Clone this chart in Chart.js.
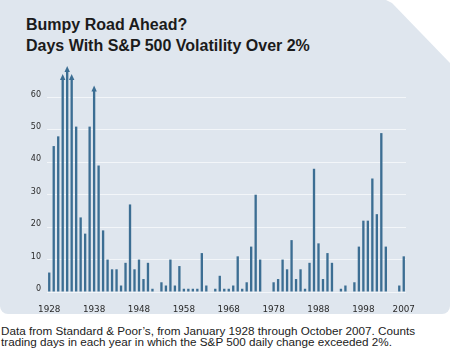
<!DOCTYPE html>
<html>
<head>
<meta charset="utf-8">
<script src="https://cdn.jsdelivr.net/npm/chart.js@4"></script>
<style>
    html, body { margin: 0; padding: 0; background: #fff; }
    body { width: 450px; height: 362px; position: relative; overflow: hidden; }
    .panel {
        position: absolute; left: 0; top: 0;
        width: 450px; height: 314px;
        background: #dfe6ee;
        border-radius: 0 0 8px 8px;
        clip-path: polygon(0 0, 386px 0, 392px 3px, 450px 63px, 450px 100%, 0 100%);
    }
    .title {
        position: absolute; left: 26px; top: 15px;
        font: bold 16px "Liberation Sans", Arial, sans-serif;
        line-height: 20.7px; color: #1b1b1b;
    }
    .note {
        position: absolute; left: 1px; top: 326px;
        font: 11.7px "Liberation Sans", Arial, sans-serif;
        line-height: 10.6px; color: #222;
    }
    canvas { position: absolute; left: 0; top: 0; }
</style>
</head>
<body>
<div class="panel"></div>
<div class="title">Bumpy Road Ahead?<br>Days With S&amp;P 500 Volatility Over 2%</div>
<canvas id="chart" width="450" height="314"></canvas>
<div class="note">Data from Standard &amp; Poor’s, from January 1928 through October 2007. Counts<br>trading days in each year in which the S&amp;P 500 daily change exceeded 2%.</div>

<script>
const firstYear = 1928;
const lastYear = 2007;
const years = [];
for (let y = firstYear; y <= lastYear; y++) years.push(String(y));

// days per year with a move over 2%, 1928-2007
const days = [
    6, 45, 48, 65.5, 68, 65.5, 51, 23, 18, 51,      // 1928-1937
    62, 39, 19, 10, 7, 7, 2, 9, 27, 7,              // 1938-1947
    10, 4, 9, 1, 0, 3, 2, 10, 2, 8,                 // 1948-1957
    1, 1, 1, 1, 12, 2, 0, 1, 5, 1,                  // 1958-1967
    1, 2, 11, 1, 3, 14, 30, 10, 0, 0,               // 1968-1977
    3, 4, 10, 7, 16, 4, 7, 1, 9, 38,                // 1978-1987
    15, 4, 12, 9, 0, 1, 2, 0, 3, 14,                // 1988-1997
    22, 22, 35, 24, 49, 14, 0, 0, 2, 11             // 1998-2007
];

// bars running off the top of the chart get an arrowhead
const offChartYears = ['1931', '1932', '1933', '1938'];
const tickYears = ['1928', '1938', '1948', '1958', '1968', '1978', '1988', '1998', '2007'];
const yTicks = [0, 10, 20, 30, 40, 50, 60];

const barColor = '#3c6e93';

const arrowPlugin = {
    id: 'arrows',
    afterDatasetsDraw(chart) {
        const ctx = chart.ctx;
        const meta = chart.getDatasetMeta(0);
        ctx.save();
        ctx.fillStyle = barColor;
        offChartYears.forEach(yr => {
            const bar = meta.data[years.indexOf(yr)];
            if (!bar) return;
            ctx.beginPath();
            ctx.moveTo(bar.x, bar.y - 5.5);
            ctx.lineTo(bar.x - 2.7, bar.y + 0.5);
            ctx.lineTo(bar.x + 2.7, bar.y + 0.5);
            ctx.closePath();
            ctx.fill();
        });
        ctx.restore();
    }
};

const ctx = document.getElementById('chart').getContext('2d');
new Chart(ctx, {
    type: 'bar',
    data: {
        labels: years,
        datasets: [{
            data: days,
            backgroundColor: barColor,
            borderWidth: 0,
            barPercentage: 0.52,
            categoryPercentage: 1
        }]
    },
    options: {
        responsive: false,
        animation: false,
        layout: { padding: { top: 65, right: 44, bottom: 0, left: 0 } },
        plugins: {
            legend: { display: false },
            tooltip: { enabled: false }
        },
        scales: {
            x: {
                grid: { display: false },
                border: { display: false },
                afterFit(scale) { scale.height = 22; },
                ticks: {
                    autoSkip: false,
                    maxRotation: 0,
                    padding: 4,
                    color: '#2a2a2a',
                    font: { family: 'DejaVu Sans', size: 8.8 },
                    callback(value) {
                        const label = this.getLabelForValue(value);
                        return tickYears.includes(label) ? label : '';
                    }
                }
            },
            y: {
                min: 0,
                max: 70,
                afterFit(scale) { scale.width = 47; },
                afterBuildTicks(scale) {
                    scale.ticks = yTicks.map(v => ({ value: v }));
                },
                grid: { color: '#f3f6f9', lineWidth: 1, drawTicks: false },
                border: { display: false },
                ticks: {
                    padding: 6,
                    labelOffset: -3,
                    color: '#2a2a2a',
                    font: { family: 'DejaVu Sans', size: 8 }
                }
            }
        }
    },
    plugins: [arrowPlugin]
});
</script>
</body>
</html>
